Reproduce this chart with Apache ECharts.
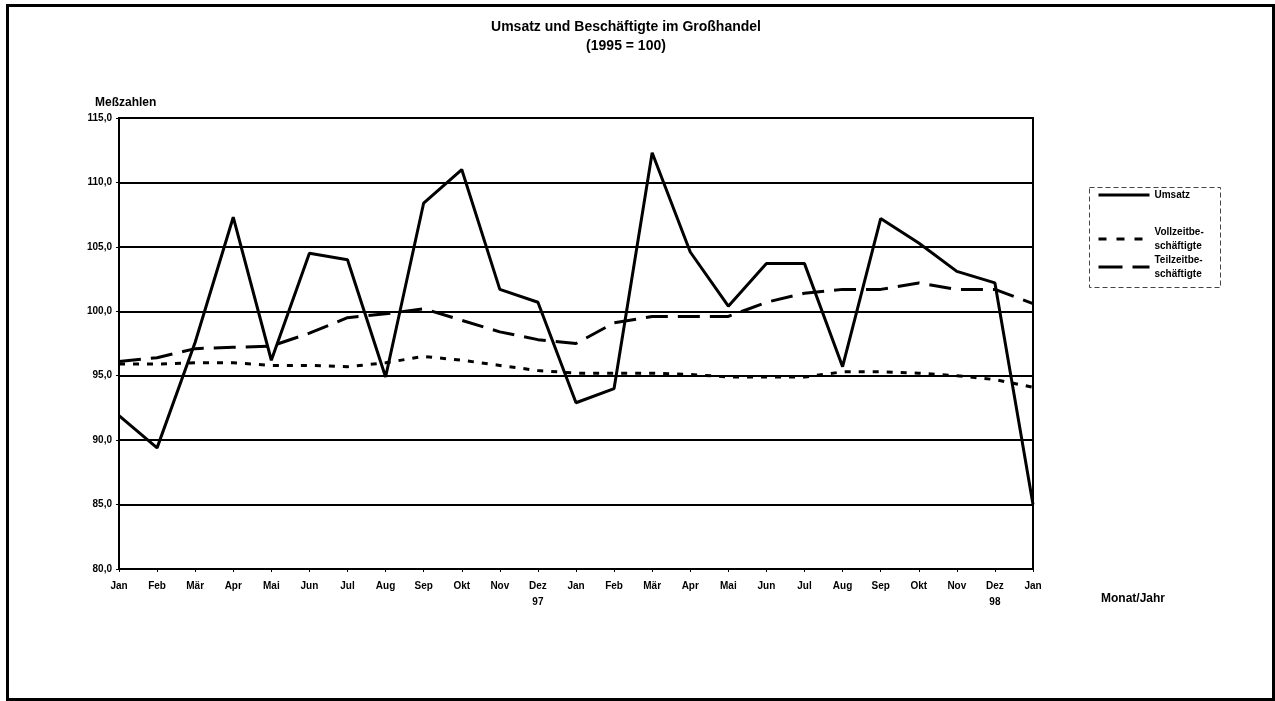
<!DOCTYPE html>
<html>
<head>
<meta charset="utf-8">
<script src="https://cdn.jsdelivr.net/npm/echarts@6/dist/echarts.min.js"></script>
<style>
html,body{margin:0;padding:0;background:#fff;}
#chart{width:1275px;height:701px;}
</style>
</head>
<body>
<div id="chart"></div>
<script>
const categories = ['Jan 97','Feb 97','Mär 97','Apr 97','Mai 97','Jun 97','Jul 97','Aug 97','Sep 97','Okt 97','Nov 97','Dez 97',
                    'Jan 98','Feb 98','Mär 98','Apr 98','Mai 98','Jun 98','Jul 98','Aug 98','Sep 98','Okt 98','Nov 98','Dez 98','Jan 99'];
const tickLabels = ['Jan','Feb','Mär','Apr','Mai','Jun','Jul','Aug','Sep','Okt','Nov','Dez\n97',
                    'Jan','Feb','Mär','Apr','Mai','Jun','Jul','Aug','Sep','Okt','Nov','Dez\n98','Jan'];
const umsatz   = [91.9,89.4,97.6,107.3,96.2,104.5,104.0,94.9,108.4,111.0,101.7,100.7,
                  92.9,94.0,112.3,104.6,100.4,103.7,103.7,95.7,107.2,105.3,103.1,102.2,85.0];
const vollzeit = [95.9,95.9,96.0,96.0,95.8,95.8,95.7,96.0,96.5,96.2,95.8,95.4,
                  95.2,95.2,95.2,95.1,94.9,94.9,94.9,95.3,95.3,95.2,95.0,94.7,94.1];
const teilzeit = [96.1,96.4,97.1,97.2,97.3,98.3,99.5,99.8,100.2,99.3,98.4,97.8,
                  97.5,99.1,99.6,99.6,99.6,100.7,101.4,101.7,101.7,102.2,101.7,101.7,100.6];
const seriesNames = ['Umsatz','Vollzeitbeschäftigte','Teilzeitbeschäftigte'];
const legendLabels = {'Umsatz':'Umsatz','Vollzeitbeschäftigte':'Vollzeitbe-\nschäftigte','Teilzeitbeschäftigte':'Teilzeitbe-\nschäftigte'};

const FONT = '"Liberation Sans", Arial, sans-serif';
const chart = echarts.init(document.getElementById('chart'));
const legendText = {fontFamily: FONT, fontWeight: 'bold', fontSize: 10, color: '#000', lineHeight: 14};
const legendItem = {opacity: 0, borderWidth: 0};
function legendFor(name, top, dash) {
  return {
    data: [name], orient: 'vertical', left: 1097, top: top,
    itemWidth: 51, itemHeight: 12, itemGap: 0, padding: 0, itemStyle: legendItem,
    lineStyle: {width: 3, color: '#000', type: dash},
    formatter: n => legendLabels[n], textStyle: legendText
  };
}

chart.setOption({
  animation: false,
  backgroundColor: '#fff',
  title: {
    text: 'Umsatz und Beschäftigte im Großhandel\n(1995 = 100)',
    left: 621, top: 13, textAlign: 'center',
    textStyle: {fontFamily: FONT, fontWeight: 'bold', fontSize: 14, color: '#000', lineHeight: 19}
  },
  legend: [
    legendFor(seriesNames[0], 188, 'solid'),
    legendFor(seriesNames[1], 225, [8, 10]),
    legendFor(seriesNames[2], 253, [24, 10])
  ],
  grid: {left: 119, right: 242, top: 118, bottom: 132, show: true, borderColor: '#000', borderWidth: 2, containLabel: false},
  xAxis: {
    type: 'category', data: categories, boundaryGap: false,
    axisLine: {lineStyle: {color: '#000', width: 2}},
    axisTick: {show: true, length: 3, alignWithLabel: true, lineStyle: {color: '#000', width: 1}},
    axisLabel: {
      interval: 0, margin: 9, color: '#000', fontFamily: FONT, fontWeight: 'bold', fontSize: 10, lineHeight: 16,
      formatter: (v, i) => tickLabels[i]
    },
    splitLine: {show: false}
  },
  yAxis: {
    type: 'value', min: 80, max: 115, interval: 5,
    axisLine: {show: true, lineStyle: {color: '#000', width: 2}},
    axisTick: {show: true, length: 3, lineStyle: {color: '#000'}},
    axisLabel: {margin: 7, color: '#000', fontFamily: FONT, fontWeight: 'bold', fontSize: 10,
      formatter: v => v.toFixed(1).replace('.', ',')},
    splitLine: {show: true, lineStyle: {color: '#000', width: 2}}
  },
  series: [
    {name: seriesNames[2], type: 'line', data: teilzeit, symbol: 'none', z: 3,
     lineStyle: {color: '#000', width: 3, type: [22, 10]}, itemStyle: {color: '#000'}},
    {name: seriesNames[1], type: 'line', data: vollzeit, symbol: 'none', z: 3,
     lineStyle: {color: '#000', width: 3, type: [6, 8]}, itemStyle: {color: '#000'}},
    {name: seriesNames[0], type: 'line', data: umsatz, symbol: 'none', z: 4,
     lineStyle: {color: '#000', width: 3, type: 'solid'}, itemStyle: {color: '#000'}}
  ],
  graphic: [
    {type: 'rect', left: 5, top: 3, shape: {width: 1266, height: 694}, silent: true, z: -1,
     style: {fill: 'none', stroke: '#000', lineWidth: 3}},
    {type: 'rect', left: 1087, top: 185, shape: {width: 131, height: 100}, silent: true,
     style: {fill: 'none', stroke: '#444', lineWidth: 1, lineDash: [5, 3]}},
    {type: 'text', left: 95, top: 97, silent: true,
     style: {text: 'Meßzahlen', fill: '#000', font: 'bold 12px ' + FONT}},
    {type: 'text', left: 1101, top: 593, silent: true,
     style: {text: 'Monat/Jahr', fill: '#000', font: 'bold 12px ' + FONT}}
  ]
});
</script>
</body>
</html>
